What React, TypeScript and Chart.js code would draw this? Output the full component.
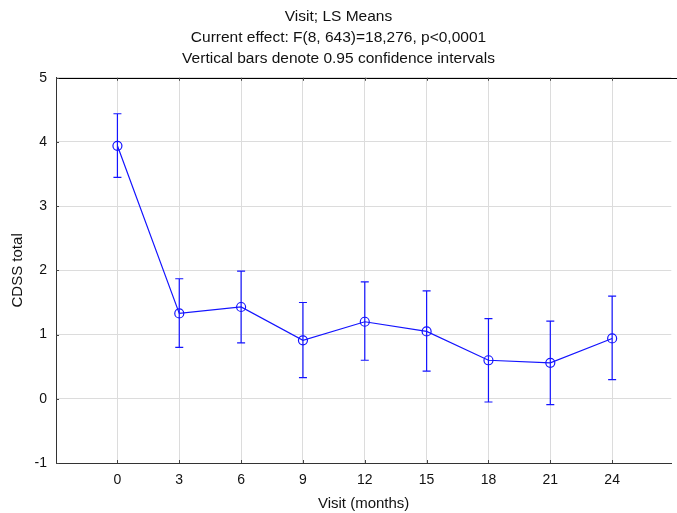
import React, { useEffect, useRef } from "react";
import { Chart, registerables } from "chart.js";

Chart.register(...registerables);

const titleLines = [
  "Visit; LS Means",
  "Current effect: F(8, 643)=18,276, p<0,0001",
  "Vertical bars denote 0.95 confidence intervals",
];
const visits = [0, 3, 6, 9, 12, 15, 18, 21, 24];
const means = [3.94, 1.33, 1.43, 0.91, 1.2, 1.05, 0.6, 0.56, 0.94];
const lower = [3.45, 0.8, 0.87, 0.33, 0.6, 0.43, -0.05, -0.09, 0.3];
const upper = [4.44, 1.87, 1.99, 1.5, 1.82, 1.68, 1.25, 1.21, 1.6];
const xTicks = [0, 3, 6, 9, 12, 15, 18, 21, 24];
const yTicks = [-1, 0, 1, 2, 3, 4, 5];

const FONT = "'Liberation Sans', Arial, sans-serif";
const BLUE = "rgb(20, 20, 255)";

const extrasPlugin = {
  id: "extras",
  afterDraw(chart: any) {
    const { ctx, chartArea, scales } = chart;
    const x = scales.x;
    const y = scales.y;
    ctx.save();
    ctx.setLineDash([]);
    // top border
    ctx.lineWidth = 1;
    ctx.strokeStyle = "#000000";
    ctx.beginPath();
    const ty = Math.round(chartArea.top) + 0.5;
    ctx.moveTo(chartArea.left, ty);
    ctx.lineTo(chart.width, ty);
    ctx.stroke();
    // inner tick marks
    ctx.strokeStyle = "#444444";
    ctx.beginPath();
    for (const v of xTicks) {
      const px = Math.round(x.getPixelForValue(v)) + 0.5;
      ctx.moveTo(px, chartArea.bottom);
      ctx.lineTo(px, chartArea.bottom - 3);
      ctx.moveTo(px, chartArea.top);
      ctx.lineTo(px, chartArea.top + 3);
    }
    for (const v of yTicks) {
      const py = Math.round(y.getPixelForValue(v)) + 0.5;
      ctx.moveTo(chartArea.left, py);
      ctx.lineTo(chartArea.left + 3, py);
    }
    ctx.stroke();
    // error bars
    ctx.lineWidth = 1.2;
    ctx.strokeStyle = BLUE;
    for (let i = 0; i < visits.length; i++) {
      const px = x.getPixelForValue(visits[i]);
      const pl = y.getPixelForValue(lower[i]);
      const pu = y.getPixelForValue(upper[i]);
      ctx.beginPath();
      ctx.moveTo(px, pl);
      ctx.lineTo(px, pu);
      ctx.moveTo(px - 4, pl);
      ctx.lineTo(px + 4, pl);
      ctx.moveTo(px - 4, pu);
      ctx.lineTo(px + 4, pu);
      ctx.stroke();
    }
    ctx.restore();
  },
};

export default function App() {
  const ref = useRef<HTMLCanvasElement | null>(null);
  useEffect(() => {
    if (!ref.current) return;
    const chart = new Chart(ref.current, {
      type: "line",
      data: {
        datasets: [
          {
            data: visits.map((v, i) => ({ x: v, y: means[i] })),
            borderColor: BLUE,
            borderWidth: 1.2,
            backgroundColor: "rgba(0,0,0,0)",
            pointRadius: 4.5,
            pointBorderWidth: 1.2,
            pointBorderColor: BLUE,
            pointBackgroundColor: "rgba(0,0,0,0)",
            tension: 0,
          },
        ],
      },
      options: {
        responsive: false,
        animation: false,
        layout: { padding: 0 },
        plugins: {
          legend: { display: false },
          tooltip: { enabled: false },
          title: {
            display: true,
            text: titleLines,
            color: "#111111",
            font: { family: FONT, size: 15.5, weight: "normal", lineHeight: 1.35 },
            padding: { top: 6, bottom: 9 },
          },
        },
        scales: {
          x: {
            type: "linear",
            min: -2.98,
            max: 26.87,
            afterBuildTicks: (s: any) => {
              s.ticks = xTicks.map((v) => ({ value: v }));
            },
            afterFit: (s: any) => {
              s.height = 50;
            },
            grid: { color: "#dcdcdc", drawTicks: false },
            border: { display: true, color: "#333333", width: 1 },
            ticks: {
              color: "#111111",
              font: { family: FONT, size: 14 },
              padding: 9,
              maxRotation: 0,
              autoSkip: false,
            },
            title: {
              display: true,
              text: "Visit (months)",
              color: "#111111",
              font: { family: FONT, size: 15, lineHeight: 1.2 },
              padding: 0,
            },
          },
          y: {
            type: "linear",
            min: -1,
            max: 5,
            afterBuildTicks: (s: any) => {
              s.ticks = yTicks.map((v) => ({ value: v }));
            },
            afterFit: (s: any) => {
              s.width = 56;
            },
            grid: { color: "#dcdcdc", drawTicks: false },
            border: { display: true, color: "#333333", width: 1 },
            ticks: {
              color: "#111111",
              font: { family: FONT, size: 14 },
              padding: 9,
            },
            title: {
              display: true,
              text: "CDSS total",
              color: "#111111",
              font: { family: FONT, size: 15, lineHeight: 1.2 },
              padding: { top: 9, bottom: 0 },
            },
          },
        },
      },
      plugins: [extrasPlugin],
    } as any);
    return () => chart.destroy();
  }, []);
  return (
    <div style={{ position: "absolute", left: 0, top: 0, width: 677, height: 513, background: "#fff" }}>
      <canvas ref={ref} width={677} height={513} style={{ display: "block" }} />
    </div>
  );
}
